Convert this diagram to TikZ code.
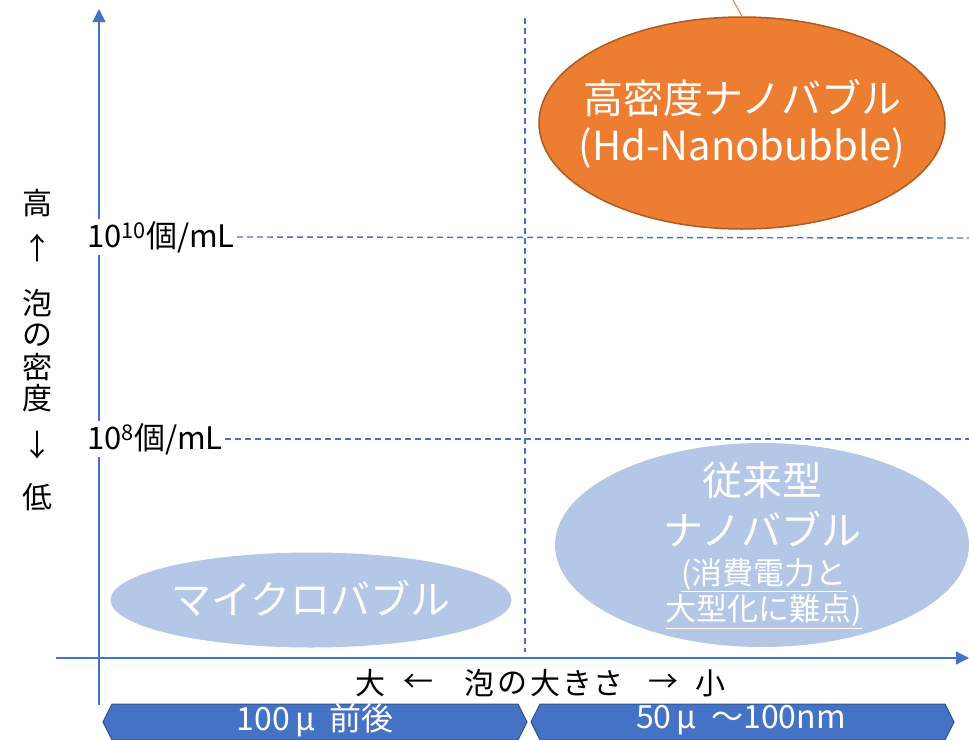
\documentclass[tikz,border=0pt]{standalone}
\usepackage{fontspec}
\setmainfont{Noto Sans CJK JP}
\usetikzlibrary{shapes.geometric,arrows.meta}
\definecolor{axisblue}{HTML}{4472C4}
\definecolor{orangefill}{HTML}{ED7D31}
\definecolor{orangeline}{HTML}{AE5A21}
\definecolor{lightblue}{HTML}{B4C7E7}
\definecolor{boxblue}{HTML}{4472C4}
\definecolor{boxline}{HTML}{2F528F}
\tikzset{
  axisline/.style={draw=axisblue, line width=1.2pt},
  guide/.style={draw=axisblue, line width=1.4pt, dash pattern=on 6pt off 4pt},
  bubble/.style={ellipse, inner sep=0pt},
  wtext/.style={text=white, inner sep=0pt, font=\fontsize{40}{44}\selectfont},
  wsmall/.style={text=white, inner sep=0pt, font=\fontsize{31}{34}\selectfont},
  btext/.style={text=black, inner sep=0pt, font=\fontsize{30}{32}\selectfont},
  ylab/.style={text=black, fill=white, inner sep=2pt, font=\fontsize{31}{34}\selectfont},
  rangebox/.style={fill=boxblue, draw=boxline, line width=1pt},
  rtext/.style={text=white, inner sep=0pt, font=\fontsize{32}{34}\selectfont}
}
\begin{document}
\begin{tikzpicture}[x=1pt,y=-1pt]
\useasboundingbox (0,0) rectangle (969,739);
% axes
\coordinate (yb) at (99,705);
\coordinate (yt) at (99,9);
\coordinate (xl) at (56,658);
\coordinate (xr) at (969,658);
\draw[axisline,-{Triangle[length=13pt,width=13pt]}] (yb) -- (yt);
\draw[axisline,-{Triangle[length=13pt,width=13pt]}] (xl) -- (xr);
% vertical dashed separator
\coordinate (vt) at (525,18);
\coordinate (vb) at (525,652);
\draw[guide] (vt) -- (vb);
% density labels and dashed lines
\node[ylab, anchor=east] (d10) at (237,237) {10\textsuperscript{10}個/mL};
\node[ylab, anchor=east] (d8) at (225,439) {10\textsuperscript{8}個/mL};
\coordinate (d10r) at (969,238);
\coordinate (d8r) at (969,439);
\draw[guide] (d10.east) -- (d10r);
\draw[guide] (d8.east) -- (d8r);
% left vertical label
\node[btext] (l1) at (37,203) {高};
\node[btext] (l2) at (37,248) {↑};
\node[btext] (l3) at (37,303) {泡};
\node[btext] (l4) at (37,335) {の};
\node[btext] (l5) at (37,367) {密};
\node[btext] (l6) at (37,398) {度};
\node[btext] (l7) at (37,445) {↓};
\node[btext] (l8) at (37,497) {低};
% bottom axis label
\node[btext] (x1) at (370,683) {大};
\node[btext] (x2) at (418,683) {←};
\node[btext] (x3) at (479,683) {泡};
\node[btext] (x4) at (512,683) {の};
\node[btext] (x5) at (545,683) {大};
\node[btext] (x6) at (577,683) {き};
\node[btext] (x7) at (608,683) {さ};
\node[btext] (x8) at (663,683) {→};
\node[btext] (x9) at (710,683) {小};
% high density nanobubble
\node[bubble, fill=orangefill, draw=orangeline, line width=1.5pt, minimum width=406pt, minimum height=212pt] (hd) at (742,123) {};
\coordinate (hdtop) at (733,0);
\draw[orangefill, line width=1pt] (hd.north) -- (hdtop);
\node[wtext] (hd1) at (742,98) {高密度ナノバブル};
\node[wtext] (hd2) at (742,148) {(Hd-Nanobubble)};
% micro bubble
\node[bubble, fill=lightblue, minimum width=401pt, minimum height=95pt] (mb) at (311,600) {};
\node[wtext] (mbt) at (311,598) {マイクロバブル};
% conventional nanobubble
\node[bubble, fill=lightblue, minimum width=414pt, minimum height=204pt] (cn) at (762,545) {};
\node[wtext] (cn1) at (762,480) {従来型};
\node[wtext] (cn2) at (762,529) {ナノバブル};
\node[wsmall] (cn3) at (764,575) {\underline{(消費電力と}};
\node[wsmall] (cn4) at (764,612) {\underline{大型化に難点)}};
% range boxes
\draw[rangebox] (103,722) -- (112,704) -- (518,704) -- (527,722) -- (518,740) -- (112,740) -- cycle;
\draw[rangebox] (531,722) -- (540,704) -- (945,704) -- (954,722) -- (945,740) -- (540,740) -- cycle;
\node[rtext] (r1) at (315,720) {100\,μ\ \ 前後};
\node[rtext] (r2) at (741,720) {50\,μ\ \ ～100nm};
\end{tikzpicture}
\end{document}
